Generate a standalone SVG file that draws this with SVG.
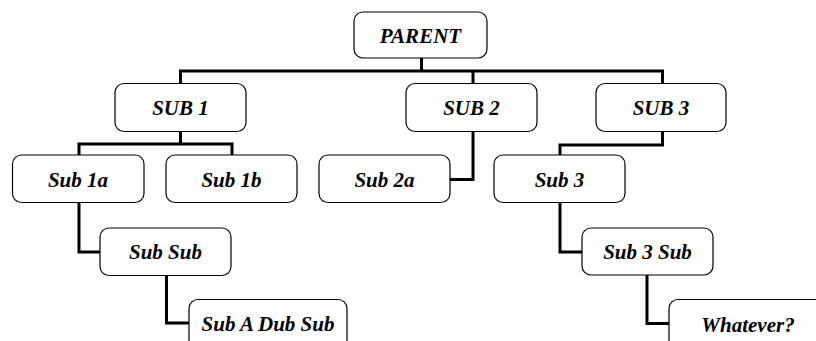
<svg xmlns="http://www.w3.org/2000/svg" width="816" height="341" viewBox="0 0 816 341">
<style>
.box{fill:#fff;stroke:#000;stroke-width:1.2}
.lbl{font-family:"Liberation Serif","Times New Roman",serif;font-weight:bold;font-style:italic;font-size:21px;text-anchor:middle;fill:#000}
.con{fill:none;stroke:#000;stroke-width:3;stroke-linejoin:miter;stroke-linecap:butt}
</style>
<rect width="816" height="341" fill="#fff"/>
<g id="connectors">
<path class="con" d="M421.5,58 V71"/>
<path class="con" d="M180.5,83 V71 H662.5 V83"/>
<path class="con" d="M473,71 V83"/>
<path class="con" d="M180.5,132 V144 M79,155 V144 H232 V155"/>
<path class="con" d="M79,203 V252 H100"/>
<path class="con" d="M166.5,276 V323 H189"/>
<path class="con" d="M473,132 V179.5 H450"/>
<path class="con" d="M662.5,132 V145 H560 V155"/>
<path class="con" d="M560,203 V252 H582"/>
<path class="con" d="M647,275 V323.5 H669"/>
</g>
<g id="parent"><rect class="box" x="354" y="12" width="133" height="46" rx="9"/><text class="lbl" x="420.5" y="43">PARENT</text></g>
<g id="sub1"><rect class="box" x="115" y="83.5" width="131" height="48" rx="9"/><text class="lbl" x="180.5" y="114.5">SUB 1</text></g>
<g id="sub2"><rect class="box" x="406" y="83.5" width="131" height="48" rx="9"/><text class="lbl" x="471.5" y="114.5">SUB 2</text></g>
<g id="sub3"><rect class="box" x="596" y="83.5" width="130" height="48" rx="9"/><text class="lbl" x="661" y="114.5">SUB 3</text></g>
<g id="sub1a"><rect class="box" x="12.5" y="155" width="131.5" height="47.5" rx="9"/><text class="lbl" x="78" y="186.5">Sub 1a</text></g>
<g id="sub1b"><rect class="box" x="166" y="155" width="131" height="47.5" rx="9"/><text class="lbl" x="231.5" y="186.5">Sub 1b</text></g>
<g id="sub2a"><rect class="box" x="319" y="155" width="131" height="47.5" rx="9"/><text class="lbl" x="384.5" y="186.5">Sub 2a</text></g>
<g id="sub3child"><rect class="box" x="494" y="155" width="131" height="47.5" rx="9"/><text class="lbl" x="559.5" y="186.5">Sub 3</text></g>
<g id="subsub"><rect class="box" x="100" y="228" width="131" height="47.5" rx="9"/><text class="lbl" x="165.5" y="259">Sub Sub</text></g>
<g id="sub3sub"><rect class="box" x="582" y="228" width="131" height="47" rx="9"/><text class="lbl" x="647.5" y="259">Sub 3 Sub</text></g>
<g id="subadubsub"><rect class="box" x="189" y="299.5" width="158" height="60" rx="9"/><text class="lbl" x="268" y="331">Sub A Dub Sub</text></g>
<g id="whatever"><rect class="box" x="669" y="299.5" width="158" height="60" rx="9"/><text class="lbl" x="748" y="331.5">Whatever?</text></g>
</svg>
